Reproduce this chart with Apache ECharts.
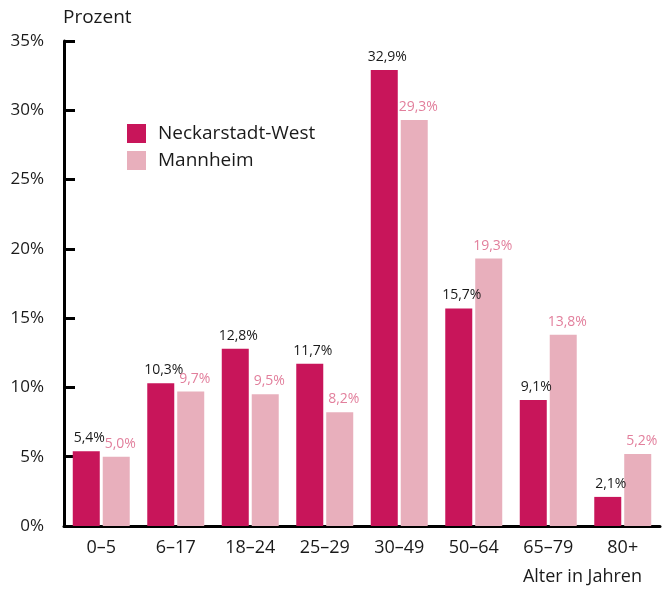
<!DOCTYPE html>
<html><head><meta charset="utf-8">
<script src="https://cdn.jsdelivr.net/npm/echarts@6/dist/echarts.min.js"></script>
<style>html,body{margin:0;padding:0;background:#fff}#c{width:663px;height:592px}</style>
</head><body><div id="c"></div>
<script>
const categories = ['0–5','6–17','18–24','25–29','30–49','50–64','65–79','80+'];
const neckarstadt = [5.4,10.3,12.8,11.7,32.9,15.7,9.1,2.1];
const mannheim = [5.0,9.7,9.5,8.2,29.3,19.3,13.8,5.2];
const yTicks = [0,5,10,15,20,25,30,35];
const FONT = '"Open Sans", "Noto Sans", sans-serif';
const fmt = v => v.toFixed(1).replace('.', ',') + '%';
const chart = echarts.init(document.getElementById('c'));
chart.setOption({
  animation:false,
  textStyle:{fontFamily:FONT},
  grid:{left:64,right:3,top:41,bottom:66,containLabel:false},
  legend:{
    left:127, top:124, padding:0, orient:'vertical', itemWidth:19, itemHeight:19, itemGap:8,
    icon:'rect',
    textStyle:{fontFamily:FONT,fontSize:19,color:'#1a1a1a',padding:[0,0,0,7]},
    data:['Neckarstadt-West','Mannheim']
  },
  graphic:[
    {type:'text',left:63,top:8,style:{text:'Prozent',font:'19px '+FONT,fill:'#1a1a1a'}},
    {type:'text',right:21,top:568,style:{text:'Alter in Jahren',font:'18px '+FONT,fill:'#1a1a1a'}}
  ],
  xAxis:{
    type:'category', data:categories,
    axisLine:{lineStyle:{color:'#000',width:3}},
    axisTick:{inside:true,length:11,lineStyle:{color:'#000',width:3}},
    axisLabel:{fontSize:18,color:'#1a1a1a',margin:13,fontFamily:FONT}
  },
  yAxis:{
    type:'value', min:0, max:35, interval:5,
    axisLine:{show:true,lineStyle:{color:'#000',width:3}},
    axisTick:{show:true,inside:true,length:11,lineStyle:{color:'#000',width:3}},
    splitLine:{show:false},
    axisLabel:{fontSize:17,color:'#1a1a1a',margin:20,fontFamily:FONT,
      formatter:v=> yTicks.includes(v) ? v+'%' : ''}
  },
  series:[
    {name:'Neckarstadt-West',type:'bar',data:neckarstadt,barWidth:27,barGap:'11%',
     itemStyle:{color:'#C8155A'},
     label:{show:true,position:'top',distance:6,offset:[3,0],fontSize:14,color:'#1a1a1a',fontFamily:FONT,
       formatter:p=>fmt(p.value)}},
    {name:'Mannheim',type:'bar',data:mannheim,barWidth:27,
     itemStyle:{color:'#E8AFBC'},
     label:{show:true,position:'top',distance:6,offset:[4,0],fontSize:14,color:'#E27F9C',fontFamily:FONT,
       formatter:p=>fmt(p.value)}}
  ]
});
</script></body></html>
